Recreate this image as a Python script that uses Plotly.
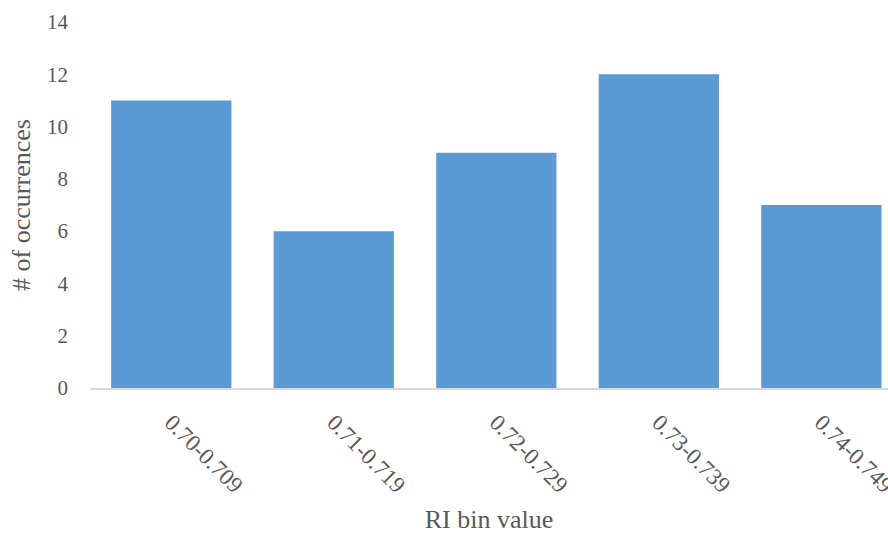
import plotly.graph_objects as go

# RI bin counts
bins = ["0.70-0.709", "0.71-0.719", "0.72-0.729", "0.73-0.739", "0.74-0.749"]
counts = [11, 6, 9, 12, 7]

y_ticks = [0, 2, 4, 6, 8, 10, 12, 14]

bar_color = "#5B9BD5"
text_color = "#595959"
serif = "Liberation Serif"

x_tick_font = dict(family=serif, size=23, color=text_color)
y_tick_font = dict(family=serif, size=21, color=text_color)
title_font = dict(family=serif, size=26, color=text_color)

fig = go.Figure(
    go.Bar(
        x=bins,
        y=counts,
        marker=dict(color=bar_color, line=dict(width=0)),
    )
)

fig.update_layout(
    template="none",
    width=888,
    height=534,
    margin=dict(l=90, r=0, t=22, b=146, autoexpand=False),
    paper_bgcolor="white",
    plot_bgcolor="white",
    bargap=0.26,
    showlegend=False,
    font=dict(family=serif, color=text_color, size=20),
)

fig.update_xaxes(
    type="category",
    automargin=False,
    range=[-0.5, 4.41],
    tickangle=45,
    tickfont=x_tick_font,
    ticklabelstandoff=10,
    showline=True,
    linecolor="#D9D9D9",
    linewidth=1.5,
    showgrid=False,
    zeroline=False,
    ticks="",
    title=dict(text="RI bin value", font=title_font, standoff=14),
)

fig.update_yaxes(
    automargin=False,
    range=[0, 14],
    tickvals=y_ticks,
    tickfont=y_tick_font,
    showgrid=False,
    zeroline=False,
    showline=False,
    ticks="",
    ticklabelstandoff=21,
    title=dict(text="# of occurrences", font=title_font, standoff=8),
)

fig.write_html("out.html")
